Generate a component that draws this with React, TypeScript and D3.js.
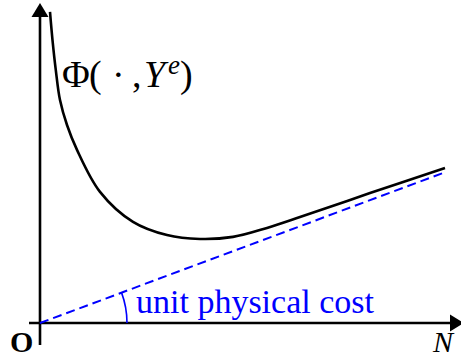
import React from "react";
import * as d3 from "d3";

// Φ(·, Yᵉ) sampled along N
const curveN = [0.25, 0.3125, 0.395, 0.5, 0.675, 0.925, 1.5, 2.325, 3.175, 4.0, 4.825, 5.675, 6.5, 8.25, 10.125];
const curvePhi = [10.37, 9.43, 8.43, 7.43, 6.6, 5.77, 4.37, 3.37, 2.93, 2.8, 2.87, 3.17, 3.53, 4.33, 5.17];

// unit physical cost line through the origin
const costN = [0, 10.075];
const costV = [0, 5.0];

const W = 461;
const H = 359;
const BLUE = "#0000ff";

export default function App() {
  const x = d3.scaleLinear().domain([0, 10]).range([40, 440]);
  const y = d3.scaleLinear().domain([0, 10]).range([323, 23]);

  const curvePts = curveN.map((n, i) => [n, curvePhi[i]] as [number, number]);
  const costPts = costN.map((n, i) => [n, costV[i]] as [number, number]);

  const line = d3
    .line<[number, number]>()
    .x((d) => x(d[0]))
    .y((d) => y(d[1]))
    .curve(d3.curveCatmullRom.alpha(0.5));
  const straight = d3
    .line<[number, number]>()
    .x((d) => x(d[0]))
    .y((d) => y(d[1]));

  const ox = x(0);
  const oy = y(0);
  const theta = Math.atan2(oy - y(costV[1]), x(costN[1]) - ox);
  const r = 87;
  const arc = d3.path();
  arc.moveTo(ox + r, oy);
  arc.arc(ox, oy, r, 0, -theta, true);

  return (
    <svg
      width={W}
      height={H}
      style={{ position: "absolute", left: 0, top: 0, background: "#fff" }}
    >
      {/* axes */}
      <line x1={ox} y1={345} x2={ox} y2={14} stroke="#000" strokeWidth={2.6} />
      <path d={`M${ox},3 L${ox - 8.5},17 L${ox + 8.5},17 Z`} fill="#000" />
      <line x1={29} y1={oy} x2={452} y2={oy} stroke="#000" strokeWidth={2.6} />
      <path d={`M464,${oy} L450,${oy - 8.5} L450,${oy + 8.5} Z`} fill="#000" />

      {/* cost line */}
      <path
        d={straight(costPts) || ""}
        fill="none"
        stroke={BLUE}
        strokeWidth={2}
        strokeDasharray="9,5"
      />
      <path d={arc.toString()} fill="none" stroke={BLUE} strokeWidth={1.6} />

      {/* Φ curve */}
      <path d={line(curvePts) || ""} fill="none" stroke="#000" strokeWidth={2.6} />

      {/* labels */}
      <text
        x={136}
        y={313}
        fill={BLUE}
        fontFamily="'Liberation Serif', serif"
        fontSize={34}
      >
        unit physical cost
      </text>
      <text
        x={10}
        y={352}
        fontFamily="'Liberation Serif', serif"
        fontWeight="bold"
        fontSize={30}
      >
        O
      </text>
      <text
        x={433}
        y={352}
        fontFamily="'Liberation Serif', serif"
        fontStyle="italic"
        fontSize={30}
      >
        N
      </text>
      <g fontFamily="'Liberation Serif', serif" fontSize={38} fill="#000">
        <text x={62} y={87}>Φ</text>
        <text x={89} y={87}>(</text>
        <text x={112} y={87}>·</text>
        <text x={132} y={87}>,</text>
        <text x={144} y={87} fontStyle="italic">Y</text>
        <text x={168} y={74} fontStyle="italic" fontSize={27}>e</text>
        <text x={180} y={87}>)</text>
      </g>
    </svg>
  );
}
